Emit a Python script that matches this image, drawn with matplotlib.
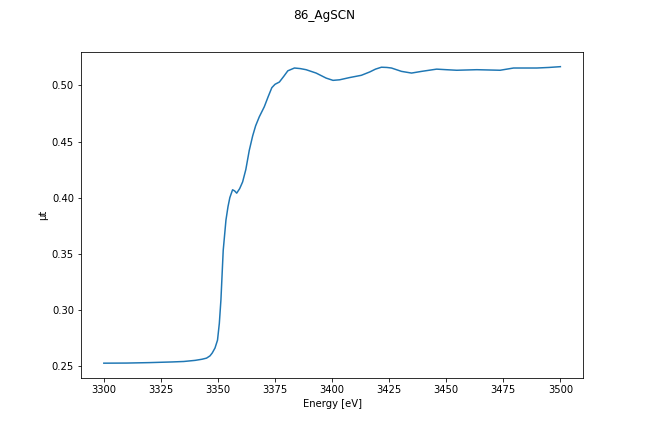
import matplotlib
matplotlib.use('Agg')
import matplotlib.pyplot as plt
import numpy as np

# values
energy = [3300, 3310, 3320, 3325, 3330, 3335, 3340, 3343, 3345, 3346.5, 3347.5,
          3348.7, 3349.8, 3350.6, 3351.3, 3352.3, 3353.5, 3354.4, 3355.2, 3356.4,
          3357.3, 3358.2, 3359.5, 3360.8, 3362.2, 3363.7, 3365.2, 3366.5, 3368.1,
          3370.3, 3372, 3373.6, 3375, 3376.9, 3378.8, 3380.6, 3383.5, 3386, 3388.6,
          3393, 3397.4, 3400.4, 3403.3, 3407.7, 3412.8, 3416.5, 3419, 3421.6, 3424,
          3426, 3430.4, 3434.8, 3439.2, 3445.8, 3450, 3454.6, 3463.4, 3473.6,
          3479.5, 3489.7, 3495, 3500]
mu_t = [0.2525, 0.2526, 0.2530, 0.2533, 0.2536, 0.2540, 0.2550, 0.2560, 0.2570,
        0.2590, 0.2616, 0.2660, 0.273, 0.288, 0.309, 0.353, 0.380, 0.392, 0.400,
        0.407, 0.406, 0.404, 0.408, 0.414, 0.425, 0.442, 0.455, 0.464, 0.472,
        0.481, 0.490, 0.498, 0.501, 0.503, 0.508, 0.513, 0.5155, 0.515, 0.514,
        0.511, 0.5065, 0.5045, 0.505, 0.507, 0.509, 0.512, 0.5145, 0.5162, 0.516,
        0.5155, 0.5125, 0.511, 0.5125, 0.5145, 0.514, 0.5135, 0.514, 0.5135,
        0.5155, 0.5155, 0.516, 0.5167]

fig, ax = plt.subplots(figsize=(9, 6), dpi=72)
fig.subplots_adjust(bottom=0.125)
ax.plot(energy, mu_t)
ax.set_xlabel('Energy [eV]')
ax.set_ylabel('μt')
fig.suptitle('86_AgSCN')
fig.savefig('out.png')
